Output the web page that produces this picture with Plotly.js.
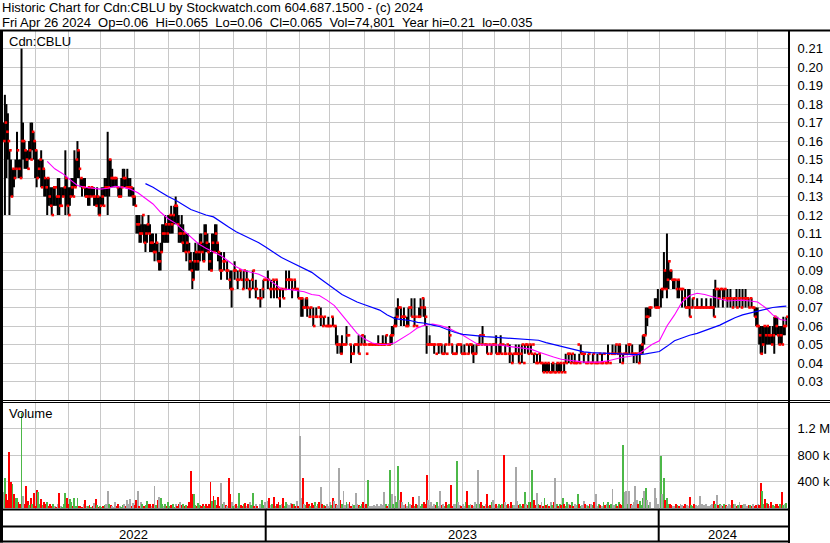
<!DOCTYPE html>
<html><head><meta charset="utf-8">
<script src="https://cdn.plot.ly/plotly-3.0.1.min.js"></script>
<style>html,body{margin:0;padding:0;background:#fff;}#chart{width:830px;height:543px;}</style>
</head><body><div id="chart"></div>
<script>
// ---- data (one row per trading week, Mon..Fri; first week starts Tue 2022-05-03) ----
const firstDay = '2022-05-03';
const hi = [
.17,.185,.18,.175,
.155,.15,.145,.145,.15, .165,.15,.15,.21,.17, .16,.155,.155,.16,.17, .17,.165,.16,.155,.15,
.15,.155,.15,.145,.14, .14,.14,.135,.135,.135, .135,.13,.14,.14,.135, .135,.135,.155,.14,.135,
.135,.14,.14,.155,.15, .16,.155,.14,.14,.14, .14,.135,.135,.135,.135, .135,.135,.13,.135,.13,
.13,.135,.135,.14,.14, .165,.15,.15,.145,.14, .14,.14,.135,.135,.14, .145,.145,.14,.145,.14,
.14,.135,.135,.13,.12, .12,.12,.115,.12,.115, .115,.115,.12,.115,.11, .11,.105,.11,.105,.10,
.105,.115,.115,.12,.115, .12,.12,.125,.12,.125, .13,.125,.12,.115,.12, .115,.11,.11,.11,.105,
.10,.095,.10,.105,.10, .105,.11,.11,.105,.115, .115,.11,.105,.10,.11, .11,.115,.115,.105,.10,
.10,.095,.10,.09,.095, .085,.09,.09,.09,.095, .085,.09,.09,.09,.08, .09,.085,.09,.08,.085,
.085,.09,.08,.085,.075, null,.08,.08,.085,.085, null,.09,.08,.085,.085, .085,.085,.085,.075,.08,
.08,.08,.08,.09,.085, .09,.085,.085,.085,.085, .08,.08,.075,.075,.075, .07,.075,.075,.065,.07,
.065,.07,.065,.07,.07, .065,.07,.06,.065,.06, .06,.065,.06,.065,.065, .06,.06,.055,.05,.05,
.055,.05,.05,.06,.055, .05,.05,.045,.05,.05, .05,.055,.05,.055,.05, .055,.045,.05,.05,.05,
.05,.05,.05,.05,.055, .05,.05,.055,.05,.055, .05,.05,.055,.06,.06, .065,.07,.075,.07,.07,
.065,.07,.06,.065,.07, .07,.075,.06,.075,.06, .065,.07,.075,.075,.075, .07,.06,.05,.055,.05,
.05,.05,.045,.05,.05, .05,.05,.045,.05,.045, .05,.06,.05,.05,.045, .045,.05,.05,.05,.05,
.045,.05,.05,.045,.05, .05,.05,.05,.045,.05, .05,.055,.05,.06,.05, .05,.05,.05,.045,.05,
.05,.05,.055,.045,.05, .055,.05,.045,.05,.05, .045,.05,.04,.045,.045, .05,.045,.05,.045,.05,
.04,.05,.05,.05,.05, .05,.05,.045,.04,.045, .045,.045,.04,.04,.04, .04,.04,.04,.035,.04,
.04,.035,.04,.04,.04, .04,.04,.04,.045,.045, .045,.04,.045,.04,.045, .04,.05,.045,.05,.045,
.045,.04,.04,.045,.04, .04,.045,.04,.04,.045, .045,.04,.045,.045,.04, .04,.05,.04,.045,.05,
.045,.05,.045,.05,.05, .04,.045,.045,.05,.05, .05,.045,.05,.045,.045, .045,.04,.05,.05,.055,
.055,.07,.07,.07,.07, null,null,.075,.075,.08, null,.08,.08,.10,.09, .11,.095,.09,.09,.085,
.085,.08,.085,.085,.08, .08,.075,.08,.07,.08, .08,.07,.075,.07,.07, .075,.07,.07,.075,.07,
.07,.075,.07,.07,.075, .07,.08,.085,.08,.08, .08,.08,.08,.08,.075, .08,.075,.08,.07,.075,
.075,.08,.075,.08,.07, .08,.075,.08,.075,.075, .075,.075,.07,.07,.07, .07,.06,.06,.06,.06,
.06,.06,.06,.06,.055, .06,.065,.065,.065,.06, .06,.06,.065,.06,.065
];
const lo = [
.16,.12,.14,.15,
.12,.13,.13,.135,.14, .145,.14,.14,.14,.15, .145,.145,.145,.15,.15, .155,.15,.14,.135,.14,
.14,.135,.135,.13,.13, .12,.125,.125,.12,.125, .125,.125,.12,.12,.125, .13,.13,.12,.125,.12,
.125,.13,.13,.135,.135, .14,.14,.135,.13,.135, .13,.13,.125,.125,.13, .13,.125,.125,.125,.12,
.12,.125,.125,.13,.13, .12,.13,.135,.135,.135, .135,.135,.13,.13,.13, .135,.135,.135,.135,.13,
.13,.13,.125,.125,.11, .11,.105,.105,.11,.105, .10,.105,.11,.10,.10, .10,.095,.10,.095,.09,
.09,.10,.105,.105,.105, .105,.11,.11,.11,.115, .115,.115,.105,.105,.105, .10,.10,.095,.10,.09,
.09,.08,.085,.09,.09, .09,.095,.10,.095,.095, .10,.10,.09,.09,.09, .10,.10,.10,.095,.09,
.085,.095,.09,.09,.085, .085,.08,.07,.09,.085, .085,.08,.09,.085,.08, .08,.085,.08,.08,.075,
.085,.08,.08,.075,.075, null,.07,.08,.075,.085, null,.08,.08,.075,.085, .075,.085,.075,.075,.07,
.08,.075,.08,.08,.085, .08,.085,.075,.085,.08, .08,.075,.075,.065,.065, .07,.07,.065,.065,.065,
.065,.06,.065,.065,.07, .065,.06,.06,.06,.06, .06,.06,.06,.065,.06, .06,.05,.045,.05,.045,
.045,.05,.05,.05,.055, .05,.04,.045,.045,.05, .05,.045,.05,.05,.05, .05,.045,.05,.05,.05,
.05,.05,.05,.05,.05, .05,.05,.05,.05,.05, .05,.05,.05,.05,.055, .06,.06,.065,.07,.06,
.065,.06,.06,.06,.06, .07,.065,.06,.06,.06, .065,.065,.065,.075,.065, .06,.045,.05,.05,.05,
.05,.045,.045,.05,.045, .05,.045,.045,.045,.045, .05,.05,.05,.045,.045, .045,.045,.05,.05,.045,
.045,.045,.05,.045,.045, .05,.045,.04,.045,.045, .05,.05,.05,.05,.05, .05,.045,.05,.045,.045,
.05,.05,.045,.045,.045, .045,.05,.045,.045,.05, .045,.04,.04,.04,.045, .045,.045,.04,.045,.04,
.04,.045,.05,.045,.05, .045,.05,.04,.04,.04, .045,.04,.04,.035,.035, .035,.035,.035,.035,.035,
.035,.035,.035,.035,.035, .035,.04,.035,.04,.045, .04,.04,.04,.04,.04, .04,.05,.04,.045,.045,
.04,.04,.04,.04,.04, .04,.04,.04,.04,.04, .045,.04,.04,.045,.04, .04,.04,.04,.045,.045,
.045,.045,.045,.045,.04, .04,.04,.045,.045,.05, .045,.045,.045,.04,.045, .04,.04,.04,.045,.045,
.05,.055,.06,.065,.065, null,null,.07,.07,.07, null,.07,.075,.08,.08, .075,.08,.085,.085,.08,
.08,.08,.075,.075,.08, .07,.075,.07,.07,.07, .065,.07,.07,.07,.07, .07,.07,.07,.07,.07,
.07,.07,.07,.07,.07, .07,.065,.07,.08,.07, .075,.08,.07,.075,.075, .07,.075,.07,.07,.07,
.075,.07,.075,.07,.07, .07,.075,.07,.075,.07, .075,.07,.07,.065,.06, .06,.05,.045,.045,.05,
.045,.05,.05,.05,.05, .05,.045,.055,.055,.05, .05,.05,.055,.055,.06
];
const cl = [
.16,.17,.165,.16,
.155,.13,.145,.14,.145, .155,.145,.14,.16,.16, .155,.15,.145,.155,.15, .165,.16,.155,.14,.145,
.15,.135,.145,.14,.135, .14,.13,.125,.12,.135, .135,.13,.13,.125,.125, .13,.135,.14,.125,.12,
.13,.135,.13,.135,.15, .155,.145,.14,.135,.135, .13,.13,.135,.13,.135, .13,.13,.125,.13,.12,
.125,.13,.125,.135,.135, .135,.15,.14,.14,.14, .14,.135,.13,.13,.135, .14,.14,.135,.135,.135,
.135,.13,.13,.125,.115, .115,.11,.11,.12,.105, .11,.115,.11,.105,.105, .10,.10,.105,.095,.095,
.10,.11,.11,.115,.11, .115,.12,.115,.12,.125, .125,.115,.11,.11,.105, .11,.10,.105,.10,.095,
.09,.085,.095,.10,.095, .10,.105,.10,.095,.11, .105,.10,.095,.09,.105, .10,.11,.105,.10,.09,
.09,.095,.095,.09,.09, .085,.08,.08,.09,.09, .085,.085,.09,.085,.08, .09,.085,.085,.08,.08,
.085,.09,.08,.08,.075, null,.075,.08,.085,.085, null,.085,.08,.08,.085, .08,.085,.08,.075,.08,
.08,.075,.08,.085,.085, .085,.085,.08,.085,.08, .08,.075,.075,.075,.07, .07,.075,.07,.065,.07,
.065,.06,.065,.065,.07, .065,.065,.06,.065,.06, .06,.06,.06,.065,.06, .06,.05,.05,.05,.045,
.05,.05,.05,.055,.055, .05,.045,.045,.05,.05, .05,.045,.05,.055,.05, .05,.045,.05,.05,.05,
.05,.05,.05,.05,.05, .05,.05,.05,.05,.055, .05,.05,.055,.055,.06, .06,.065,.07,.07,.065,
.065,.065,.06,.06,.07, .07,.065,.06,.065,.06, .065,.065,.07,.075,.07, .065,.05,.05,.05,.05,
.05,.05,.045,.05,.05, .05,.045,.045,.05,.045, .05,.055,.05,.045,.045, .045,.05,.05,.05,.045,
.045,.045,.05,.045,.05, .05,.045,.045,.045,.05, .05,.055,.05,.055,.05, .05,.045,.05,.045,.05,
.05,.05,.045,.045,.05, .045,.05,.045,.045,.05, .045,.045,.04,.045,.045, .045,.045,.04,.045,.05,
.04,.05,.05,.045,.05, .045,.05,.045,.04,.04, .045,.04,.04,.035,.04, .035,.04,.035,.035,.04,
.035,.035,.04,.035,.04, .035,.04,.035,.04,.045, .045,.04,.045,.04,.04, .04,.05,.04,.045,.045,
.045,.04,.04,.045,.04, .04,.045,.04,.04,.04, .045,.04,.04,.045,.04, .04,.045,.04,.045,.045,
.045,.05,.045,.05,.045, .04,.045,.045,.045,.05, .05,.045,.045,.045,.045, .045,.04,.045,.05,.055,
.055,.065,.065,.07,.07, null,null,.07,.07,.07, null,.08,.08,.09,.08, .085,.095,.09,.085,.085,
.085,.08,.085,.08,.08, .08,.075,.07,.07,.07, .065,.07,.075,.07,.07, .07,.07,.07,.07,.07,
.07,.07,.07,.07,.07, .07,.065,.08,.08,.075, .08,.08,.075,.08,.075, .075,.075,.075,.07,.075,
.075,.07,.075,.075,.07, .075,.075,.075,.075,.07, .075,.07,.07,.065,.06, .06,.055,.045,.05,.06,
.055,.06,.055,.055,.05, .055,.065,.06,.055,.05, .055,.05,.06,.06,.065
];
// daily volume, thousands of shares
const volK = [
240,455,210,120,
850,390,360,200,150, 140,90,60,1440,170, 60,330,100,40,150, 50,220,30,270,240,
60,130,40,90,60, 90,20,50,30,50, 20,10,60,220,30, 15,60,215,150,60,
130,80,20,140,30, 140,30,20,15,50, 110,30,20,40,10, 20,70,130,40,10,
30,10,20,40,60, 250,60,40,30,10, 90,30,60,20,15, 40,60,30,110,50,
130,20,70,40,110, 250,30,80,60,20, 40,100,50,60,30, 50,330,40,120,160,
140,60,20,50,30, 80,20,40,60,10, 50,30,60,80,40, 60,20,40,30,90,
550,210,200,40,20, 70,40,30,60,20, 50,30,60,390,100, 170,120,40,160,30,
375,60,80,40,30, 450,200,90,20,40, 60,30,220,40,20, 50,70,30,60,90,
40,220,30,60,20, null,60,110,40,80, null,100,140,40,60, 160,30,50,80,40,
60,150,30,90,60, 40,70,60,50,30, 100,30,1090,150,450, 60,40,80,50,30,
70,40,90,30,60, 80,310,60,40,20, 50,30,90,40,150, 100,60,40,600,120,
60,250,40,90,50, 80,30,60,40,220, 60,40,30,50,90, 40,60,420,30,20,
20,40,30,60,20, 30,60,40,230,50, 30,60,570,210,60, 180,90,630,120,230,
80,40,60,30,90, 60,40,160,30,50, 40,180,30,60,90, 60,490,120,40,80,
30,60,40,80,20, 250,40,60,30,90, 40,60,350,30,50, 60,710,80,40,30,
50,30,90,250,40, 60,40,30,80,50, 570,60,90,40,30, 60,200,30,40,80,
120,40,60,30,50, 40,60,800,90,40, 60,30,80,40,40, 620,100,40,60,30,
50,230,60,40,80, 90,570,120,40,220, 60,40,90,30,150, 40,60,30,80,40,
90,450,60,30,50, 40,150,60,30,80, 60,40,90,30,50, 40,200,60,30,40,
100,60,40,30,50, 60,40,90,200,30, 60,40,30,80,40, 60,90,40,60,280,
40,60,30,90,60, 40,950,230,250,50, 250,60,40,90,330, 120,60,100,40,150,
250,300,120,40,80, null,null,300,150,60, null,790,200,450,110, 140,60,60,40,30,
30,60,40,20,50, 40,30,60,40,30, 160,40,30,60,40, 30,40,170,60,40,
40,60,30,20,40, 60,100,60,190,40, 60,40,30,60,40, 30,60,40,120,50,
60,30,40,80,40, 40,60,50,30,40, 40,30,60,20,40, 60,40,370,250,60,
130,70,60,30,90, 40,30,60,50,30, 60,230,40,50,75
];
// moving averages, one value per week (Monday)
const maShortStartWeek = 6;
const maShort = [
.149,.145,.1425,.139,.136,.135,.1345,.134,.1345,.1355,.135,.134,.132,.129,.126,.1215,.118,.1155,.112,.108,
.1045,.102,.100,.098,.095,.092,.090,.089,.088,.086,.083,.080,.0798,.079,.0785,.077,.0765,.074,.071,.066,
.061,.056,.053,.0508,.050,.050,.051,.0535,.056,.059,.0605,.061,.0603,.059,.057,.055,.0525,.050,.0497,.0496,
.0497,.049,.0485,.048,.0475,.046,.0445,.0432,.042,.0413,.041,.0405,.0404,.0405,.041,.042,.043,.0435,.0445,.047,
.050,.052,.060,.066,.073,.0765,.0777,.077,.0758,.0745,.0735,.0738,.074,.0735,.073,.070,.066,.0635
];
const maShortLast = .063;
const maLongStartWeek = 19;
const maLong = [
.137,.135,.1325,.130,.128,.1255,.123,.1215,.120,.119,.116,.1135,.111,.109,.107,.105,.1025,.0995,.097,.095,
.093,.091,.089,.086,.083,.080,.077,.075,.073,.0715,.070,.0686,.066,.064,.0635,.063,.062,.0615,.0605,.0596,
.058,.0565,.0555,.055,.0546,.0543,.054,.0537,.0535,.0532,.053,.0528,.0523,.051,.050,.049,.0478,.0467,.046,.0456,
.0454,.0452,.0452,.0452,.045,.0445,.0448,.0455,.0462,.049,.052,.0535,.055,.056,.0575,.059,.0605,.0625,.0645,.066,
.067,.068,.069,.070,.0705
];
const maLongLast = .0708;
const priceTicks = [0.03,0.04,0.05,0.06,0.07,0.08,0.09,0.10,0.11,0.12,0.13,0.14,0.15,0.16,0.17,0.18,0.19,0.20,0.21];
const volTicks = [400000, 800000, 1200000];
const volTickText = ['400 k', '800 k', '1.2 M'];
const yearLabels = ['2022', '2023', '2024'];
const titleLine1 = 'Historic Chart for Cdn:CBLU by Stockwatch.com 604.687.1500 - (c) 2024';
const titleLine2 = ['Fri Apr 26 2024', 'Op=0.06', 'Hi=0.065', 'Lo=0.06', 'Cl=0.065', 'Vol=74,801', 'Year hi=0.21', 'lo=0.035'];

// ---- build ----
function tradingDays(start, n) {
  const out = []; const d = new Date(start + 'T00:00:00Z');
  while (out.length < n) {
    const wd = d.getUTCDay();
    if (wd !== 0 && wd !== 6) out.push(d.toISOString().slice(0, 10));
    d.setUTCDate(d.getUTCDate() + 1);
  }
  return out;
}
const dates = tradingDays(firstDay, hi.length);
const n = dates.length;
const weekDate = k => dates[Math.max(0, 5 * k - 1)];

const barX = [], barY = [], clX = [], clY = [];
for (let i = 0; i < n; i++) {
  if (hi[i] == null) continue;
  if (hi[i] > lo[i]) { barX.push(dates[i], dates[i], null); barY.push(lo[i], hi[i], null); }
  clX.push(dates[i] + ' 16:00'); clY.push(cl[i]);
}
const volX = [], volY = [], volC = [];
let prev = null;
for (let i = 0; i < n; i++) {
  if (volK[i] == null || cl[i] == null) continue;
  let c = '#a8a8a8';
  if (prev != null) { if (cl[i] > prev + 1e-9) c = '#4cb848'; else if (cl[i] < prev - 1e-9) c = '#ff0000'; }
  prev = cl[i];
  volX.push(dates[i]); volY.push(volK[i] * 1000); volC.push(c);
}
const msX = maShort.map((v, i) => weekDate(maShortStartWeek + i)).concat([dates[n - 1]]);
const msY = maShort.concat([maShortLast]);
const mlX = maLong.map((v, i) => weekDate(maLongStartWeek + i)).concat([dates[n - 1]]);
const mlY = maLong.concat([maLongLast]);

const traces = [
  {type: 'scatter', mode: 'lines', x: barX, y: barY, line: {color: '#000', width: 2}, connectgaps: false, hoverinfo: 'skip', xaxis: 'x', yaxis: 'y'},
  {type: 'scatter', mode: 'markers', x: clX, y: clY, marker: {symbol: 'square', size: 2.6, color: '#ff0000', line: {width: 0}}, hoverinfo: 'skip', xaxis: 'x', yaxis: 'y'},
  {type: 'scatter', mode: 'lines', x: msX, y: msY, line: {color: '#ff00ff', width: 1.1}, hoverinfo: 'skip', xaxis: 'x', yaxis: 'y'},
  {type: 'scatter', mode: 'lines', x: mlX, y: mlY, line: {color: '#0000ff', width: 1.2}, hoverinfo: 'skip', xaxis: 'x', yaxis: 'y'},
  {type: 'bar', x: volX, y: volY, marker: {color: volC, line: {width: 0}}, width: 86400000 * 1.25, hoverinfo: 'skip', xaxis: 'x', yaxis: 'y2'}
];

// pixel helpers for the frame (plot area: x 3..789, y 31..509)
const L = 3, R = 789, T = 31, B = 509, W = R - L, H = B - T;
const px = X => (X - L) / W, py = Y => (B - Y) / H;
const hline = (x0, x1, y, w) => ({type: 'line', xref: 'paper', yref: 'paper', x0: px(x0), x1: px(x1), y0: py(y), y1: py(y), line: {color: '#000', width: w}, layer: 'above'});
const vline = (x, y0, y1, w) => ({type: 'line', xref: 'paper', yref: 'paper', x0: px(x), x1: px(x), y0: py(y0), y1: py(y1), line: {color: '#000', width: w}, layer: 'above'});

const font = {family: 'Liberation Sans, Arial, sans-serif', size: 13, color: '#000'};
const ann = (text, X, Y, xanchor) => ({text, x: px(X), y: py(Y), xref: 'paper', yref: 'paper', xanchor: xanchor || 'left', yanchor: 'middle', showarrow: false, font, borderpad: 0});
const sp = '\u00a0\u00a0';

const layout = {
  width: 830, height: 543,
  margin: {l: L, r: 830 - R, t: T, b: 543 - B, pad: 0},
  paper_bgcolor: '#fff', plot_bgcolor: '#fff', showlegend: false, font,
  bargap: 0,
  xaxis: {type: 'date', range: ['2022-05-02 18:00', '2024-04-29 18:00'], rangebreaks: [{bounds: ['sat', 'mon']}],
    dtick: 'M1', tick0: '2022-06-01', showticklabels: false, ticks: '', showgrid: true, gridcolor: '#c8c8c8', gridwidth: 1,
    zeroline: false, showline: false, anchor: 'y2', fixedrange: true},
  yaxis: {domain: [py(400), 1], range: [0.0200, 0.2195], side: 'right', tickvals: priceTicks, ticktext: priceTicks.map(v => v.toFixed(2)),
    showgrid: true, gridcolor: '#c8c8c8', gridwidth: 1, zeroline: false, showline: false, ticks: 'outside', ticklen: 5, tickcolor: 'rgba(0,0,0,0)',
    tickfont: font, fixedrange: true},
  yaxis2: {domain: [0, py(402)], range: [-22900, 1611000], side: 'right', tickvals: volTicks, ticktext: volTickText,
    showgrid: true, gridcolor: '#c8c8c8', gridwidth: 1, zeroline: false, showline: false, ticks: 'outside', ticklen: 5, tickcolor: 'rgba(0,0,0,0)',
    tickfont: font, fixedrange: true},
  shapes: [
    hline(0, 830, 30.5, 2), hline(0, 830, 400.5, 1), hline(0, 830, 402.5, 1),
    hline(0, 789, 509.5, 2), hline(0, 789, 526.5, 2), hline(0, 789, 541.5, 2),
    vline(1.5, 30, 542.5, 3), vline(789, 30, 543, 2),
    vline(265.7, 509, 541.5, 2), vline(658.7, 509, 541.5, 2)
  ],
  annotations: [
    ann(titleLine1, 1, 7.9), ann(titleLine2.join(sp), 1, 22.6),
    ann('Cdn:CBLU', 8, 41), ann('Volume', 8, 413),
    ann(yearLabels[0], 133, 534, 'center'), ann(yearLabels[1], 462, 534, 'center'), ann(yearLabels[2], 722, 534, 'center')
  ]
};
Plotly.newPlot('chart', traces, layout, {displayModeBar: false, staticPlot: true});
</script></body></html>
